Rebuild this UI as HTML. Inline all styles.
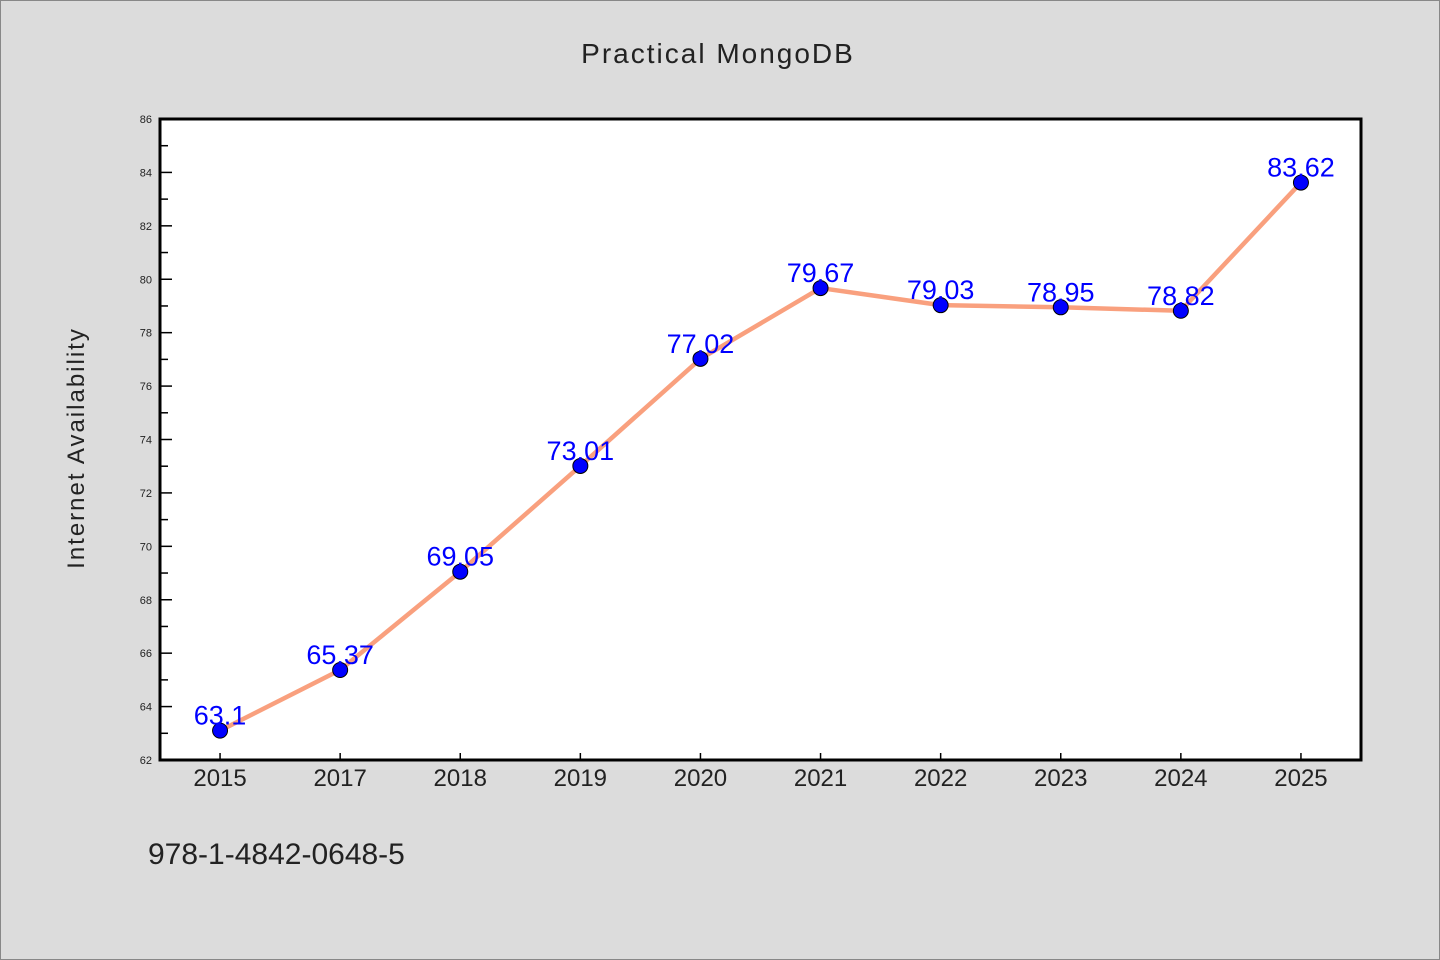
<!DOCTYPE html>
<html><head><meta charset="utf-8"><style>
html,body{margin:0;padding:0;background:#dcdcdc;}
svg{display:block;font-family:"WenQuanYi Zen Hei","Liberation Sans",sans-serif;}
</style></head><body>
<svg id="chart" width="1440" height="960">
<rect x="0.5" y="0.5" width="1439" height="959" fill="#dcdcdc" stroke="#888"/>
<text x="718" y="63" text-anchor="middle" font-size="28" fill="#222" letter-spacing="2">Practical MongoDB</text>
<text transform="translate(84,448) rotate(-90)" text-anchor="middle" font-size="24" fill="#222" letter-spacing="2">Internet Availability</text>
<text x="148" y="864" font-size="30" fill="#222">978-1-4842-0648-5</text>
<rect x="160" y="119" width="1201" height="641" fill="#fff"/>
<g id="axes"></g>
<g id="series"></g>
<rect x="160" y="119" width="1201" height="641" fill="none" stroke="#000" stroke-width="3"/>
</svg>
<script>
const categories=["2015","2017","2018","2019","2020","2021","2022","2023","2024","2025"];
const values=[63.1,65.37,69.05,73.01,77.02,79.67,79.03,78.95,78.82,83.62];
const valueLabels=["63.1","65.37","69.05","73.01","77.02","79.67","79.03","78.95","78.82","83.62"];
const yTicks=[62,64,66,68,70,72,74,76,78,80,82,84,86];
const NS="http://www.w3.org/2000/svg";
const L=160,R=1361,T=119,B=760,ymin=62,ymax=86;
function xs(i){return L+(R-L)/categories.length*(i+0.5);}
function ys(v){return B-(v-ymin)/(ymax-ymin)*(B-T);}
function mk(tag,attrs,parent){const e=document.createElementNS(NS,tag);for(const k in attrs)e.setAttribute(k,attrs[k]);parent.appendChild(e);return e;}
const ax=document.getElementById('axes'),se=document.getElementById('series');
yTicks.forEach((t,i)=>{
  const y=ys(t);
  const tk=mk('line',{x1:L,x2:L+12,y1:y,y2:y,stroke:'#000','stroke-width':1.5},ax);
  
  
  const lb=mk('text',{x:L-8,y:y+4,'text-anchor':'end','font-size':11,fill:'#222'},ax);
  lb.textContent=t;
  
  
  if(i<yTicks.length-1){
    const ym=ys(t+(yTicks[1]-yTicks[0])/2);
    const mt=mk('line',{x1:L,x2:L+8,y1:ym,y2:ym,stroke:'#000','stroke-width':1.5},ax);
    
    
  }
});
categories.forEach((c,i)=>{
  const x=xs(i);
  const tk=mk('line',{x1:x,x2:x,y1:B,y2:B-7,stroke:'#000','stroke-width':1.5},ax);
  
  
  const lb=mk('text',{x:x,y:B+26,'text-anchor':'middle','font-size':24,fill:'#222'},ax);
  lb.textContent=c;
  
  
});
const pts=values.map((v,i)=>xs(i)+','+ys(v)).join(' ');
const line=mk('polyline',{points:pts,fill:'none',stroke:'#f9a07e','stroke-width':4.5,'stroke-linejoin':'round'},se);


values.forEach((v,i)=>{
  const c=mk('circle',{cx:xs(i),cy:ys(v),r:7.5,fill:'#0000ff',stroke:'#000','stroke-width':1},se);
  
  
});
values.forEach((v,i)=>{
  const t=mk('text',{x:xs(i),y:ys(v)-6,'text-anchor':'middle','font-size':27,fill:'#0000ff'},se);
  t.textContent=valueLabels[i];
  
  
});
</script>
</body></html>
